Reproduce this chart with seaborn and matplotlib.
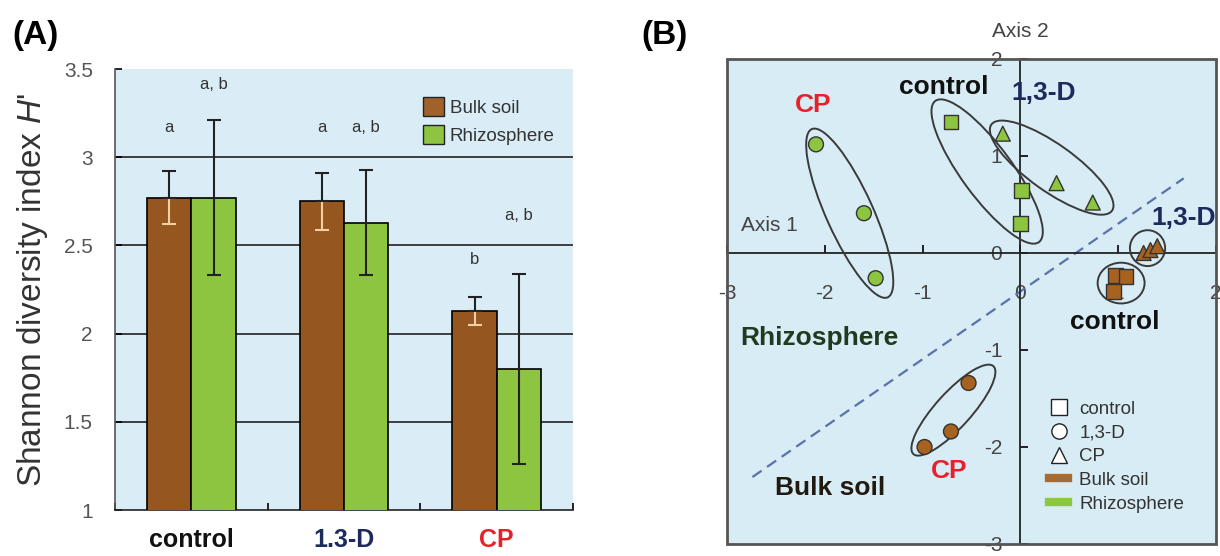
import pandas as pd
import seaborn as sns
import matplotlib.pyplot as plt
from matplotlib.patches import Ellipse, Patch, Rectangle
from matplotlib.lines import Line2D

plt.rcParams['font.family'] = ['Liberation Sans', 'DejaVu Sans']
plt.rcParams['mathtext.fontset'] = 'custom'
plt.rcParams['mathtext.it'] = 'Liberation Sans:italic'
plt.rcParams['mathtext.rm'] = 'Liberation Sans'

# ---- panel A data: Shannon diversity ----
treatments = ['control', '1.3-D', 'CP']
tick_colors = ['#111111', '#1c2a5e', '#e8202a']
bulk_mean = [2.77, 2.75, 2.13]
bulk_err = [0.15, 0.16, 0.08]
rhizo_mean = [2.77, 2.63, 1.80]
rhizo_err = [0.44, 0.30, 0.54]
bulk_letters = ['a', 'a', 'b']
bulk_letter_y = [3.17, 3.17, 2.42]
rhizo_letters = ['a, b', 'a, b', 'a, b']
rhizo_letter_y = [3.41, 3.17, 2.67]

# ---- panel B data: ordination scores ----
rhizo_cp_x = [-2.09, -1.60, -1.48]
rhizo_cp_y = [1.12, 0.41, -0.26]
rhizo_ctrl_x = [-0.71, 0.01, 0.00]
rhizo_ctrl_y = [1.35, 0.64, 0.30]
rhizo_d_x = [-0.18, 0.37, 0.74]
rhizo_d_y = [1.23, 0.72, 0.52]
bulk_d_x = [1.26, 1.33, 1.40]
bulk_d_y = [0.00, 0.03, 0.07]
bulk_ctrl_x = [0.97, 1.08, 0.95]
bulk_ctrl_y = [-0.23, -0.24, -0.40]
bulk_cp_x = [-0.53, -0.71, -0.98]
bulk_cp_y = [-1.34, -1.84, -2.00]

# group ellipses: centre x, centre y, length, width, angle
ellipses = [(-1.745, 0.41, 1.90, 0.48, -65.9),
            (-0.34, 0.84, 1.80, 0.52, -54),
            (0.32, 0.88, 1.52, 0.48, -35.8),
            (1.30, 0.05, 0.36, 0.37, 0),
            (1.03, -0.31, 0.48, 0.42, 0),
            (-0.685, -1.62, 1.22, 0.36, 48)]
boundary_x = [-2.74, 1.67]
boundary_y = [-2.31, 0.77]

brown = '#95561f'
green = '#8dc541'
bg = '#daedf7'

fig = plt.figure(figsize=(12.2, 5.56), dpi=100)
axA = fig.add_axes([0.0943, 0.0827, 0.3754, 0.793])
axB = fig.add_axes([0.5959, 0.0216, 0.4008, 0.8723])

# ================= panel A =================
df_a = pd.DataFrame({
    'treatment': treatments * 2,
    'sample': ['Bulk soil'] * 3 + ['Rhizosphere'] * 3,
    'H': bulk_mean + rhizo_mean,
})
axA.set_facecolor(bg)
sns.barplot(data=df_a, x='treatment', y='H', hue='sample',
            palette=[brown, green], saturation=1, width=0.58, edgecolor='black',
            linewidth=1.2, legend=False, ax=axA, zorder=3)

xb = [p.get_x() + p.get_width() / 2 for p in axA.containers[0]]
xr = [p.get_x() + p.get_width() / 2 for p in axA.containers[1]]
zeros = [0, 0, 0]
axA.errorbar(xb, bulk_mean, yerr=[bulk_err, zeros], fmt='none', ecolor='#f2cfa5',
             capsize=5, elinewidth=1.5, capthick=1.5, zorder=4)
axA.errorbar(xb, bulk_mean, yerr=[zeros, bulk_err], fmt='none', ecolor='#222222',
             capsize=5, elinewidth=1.5, capthick=1.5, zorder=4)
axA.errorbar(xr, rhizo_mean, yerr=rhizo_err, fmt='none', ecolor='#222222',
             capsize=5, elinewidth=1.5, capthick=1.5, zorder=4)

for x, y, t in zip(xb, bulk_letter_y, bulk_letters):
    axA.text(x, y, t, ha='center', va='center', fontsize=12, color='#333333')
for x, y, t in zip(xr, rhizo_letter_y, rhizo_letters):
    axA.text(x, y, t, ha='center', va='center', fontsize=12, color='#333333')

axA.set_ylim(1, 3.5)
axA.set_xlim(-0.5, 2.5)
axA.set_yticks([1, 1.5, 2, 2.5, 3, 3.5])
axA.set_yticklabels(['1', '1.5', '2', '2.5', '3', '3.5'])
axA.set_axisbelow(True)
axA.grid(axis='y', color='#222222', lw=1.2)
axA.get_ygridlines()[-1].set_visible(False)
axA.get_ygridlines()[0].set_visible(False)
axA.set_xticks([-0.5, 0.5, 1.5, 2.5], minor=True)
axA.tick_params(axis='x', which='major', length=0, pad=13)
axA.tick_params(axis='x', which='minor', direction='in', length=5, width=1.2)
axA.tick_params(axis='y', direction='in', length=5, width=1.2, labelsize=15,
                labelcolor='#555555', pad=16)
for lab, c in zip(axA.get_xticklabels(), tick_colors):
    lab.set_color(c)
    lab.set_fontweight('bold')
    lab.set_fontsize(18)
axA.set_xlabel('')
axA.set_ylabel("Shannon diversity index $H$'", fontsize=24, color='#333333', labelpad=10)
for s in ['top', 'right']:
    axA.spines[s].set_visible(False)
axA.spines['left'].set_color('#555555')
axA.spines['left'].set_linewidth(1.2)
axA.spines['bottom'].set_color('#222222')
axA.spines['bottom'].set_linewidth(1.2)

handles_a = [Patch(facecolor='#a0622a', edgecolor='#222222', label='Bulk soil'),
             Patch(facecolor=green, edgecolor='#222222', label='Rhizosphere')]
axA.legend(handles=handles_a, loc='upper left', bbox_to_anchor=(0.635, 0.975),
           frameon=False, fontsize=13.5, handlelength=1.15, handleheight=1.15,
           handletextpad=0.3, labelspacing=0.45, labelcolor='#333333')

# ================= panel B =================
df_b = pd.DataFrame({
    'axis1': rhizo_cp_x + rhizo_ctrl_x + rhizo_d_x + bulk_d_x + bulk_ctrl_x + bulk_cp_x,
    'axis2': rhizo_cp_y + rhizo_ctrl_y + rhizo_d_y + bulk_d_y + bulk_ctrl_y + bulk_cp_y,
    'treatment': ['CP'] * 3 + ['control'] * 3 + ['1,3-D'] * 3
                 + ['1,3-D'] * 3 + ['control'] * 3 + ['CP'] * 3,
    'sample': ['Rhizosphere'] * 9 + ['Bulk soil'] * 9,
})
axB.set_facecolor('#d8ecf5')
sns.scatterplot(data=df_b, x='axis1', y='axis2', hue='sample', style='treatment',
                palette={'Bulk soil': '#a8621f', 'Rhizosphere': green},
                markers={'control': 's', 'CP': 'o', '1,3-D': '^'},
                s=115, edgecolor='#333333', linewidth=1, legend=False,
                ax=axB, zorder=4)

for cx, cy, w, h, ang in ellipses:
    axB.add_patch(Ellipse((cx, cy), w, h, angle=ang, fill=False,
                          edgecolor='#3a3a3a', lw=1.4, zorder=3))
axB.plot(boundary_x, boundary_y, ls=(0, (5, 3)), color='#5a72aa', lw=1.6, zorder=2)

axB.set_xlim(-3, 2)
axB.set_ylim(-3, 2)
axB.set_xticks([-3, -2, -1, 0, 1, 2])
axB.set_yticks([-3, -2, -1, 0, 1, 2])
axB.set_xticklabels(['-3', '-2', '-1', '0', '1', '2'])
axB.set_yticklabels(['-3', '-2', '-1', '0', '1', '2'])
axB.spines['left'].set_position(('data', 0))
axB.spines['bottom'].set_position(('data', 0))
for s in ['left', 'bottom']:
    axB.spines[s].set_color('#222222')
    axB.spines[s].set_linewidth(1.3)
for s in ['top', 'right']:
    axB.spines[s].set_visible(False)
axB.add_patch(Rectangle((0, 0), 1, 1, transform=axB.transAxes, fill=False,
                        lw=2, edgecolor='#555555', clip_on=False, zorder=5))
axB.tick_params(direction='in', length=6, width=1.2, labelsize=15, labelcolor='#444444')
axB.tick_params(axis='x', pad=22)
axB.tick_params(axis='y', pad=13)
axB.set_xlabel('')
axB.set_ylabel('')

axB.text(-2.57, 0.28, 'Axis 1', ha='center', va='center', fontsize=15, color='#444444')
axB.text(0, 1.056, 'Axis 2', transform=axB.get_xaxis_transform(), ha='center',
         va='center', fontsize=15, color='#444444')

labels_b = [(-2.12, 1.53, 'CP', '#e8202a'),
            (-0.78, 1.71, 'control', '#111111'),
            (0.24, 1.65, '1,3-D', '#1c2a5e'),
            (1.67, 0.36, '1,3-D', '#1c2a5e'),
            (0.97, -0.71, 'control', '#111111'),
            (-2.06, -0.88, 'Rhizosphere', '#1f3a1f'),
            (-0.73, -2.25, 'CP', '#e8202a'),
            (-1.95, -2.42, 'Bulk soil', '#221a10')]
for x, y, t, c in labels_b:
    axB.text(x, y, t, ha='center', va='center', fontsize=19, fontweight='bold',
             color=c, zorder=6)

handles_b = [Line2D([], [], marker='s', ls='none', mfc='white', mec='#222222', ms=11, label='control'),
             Line2D([], [], marker='o', ls='none', mfc='white', mec='#222222', ms=11, label='1,3-D'),
             Line2D([], [], marker='^', ls='none', mfc='white', mec='#222222', ms=12, label='CP'),
             Line2D([], [], color='#a86a30', lw=6, label='Bulk soil'),
             Line2D([], [], color='#8dc63f', lw=6, label='Rhizosphere')]
axB.legend(handles=handles_b, loc='upper left', bbox_to_anchor=(0.625, 0.33),
           frameon=False, fontsize=13.5, handlelength=1.0, handletextpad=0.6,
           labelspacing=0.35, labelcolor='#333333')

fig.text(0.0295, 0.937, '(A)', ha='center', va='center', fontsize=24, fontweight='bold')
fig.text(0.545, 0.937, '(B)', ha='center', va='center', fontsize=24, fontweight='bold')

fig.savefig('out.png', dpi=100)
